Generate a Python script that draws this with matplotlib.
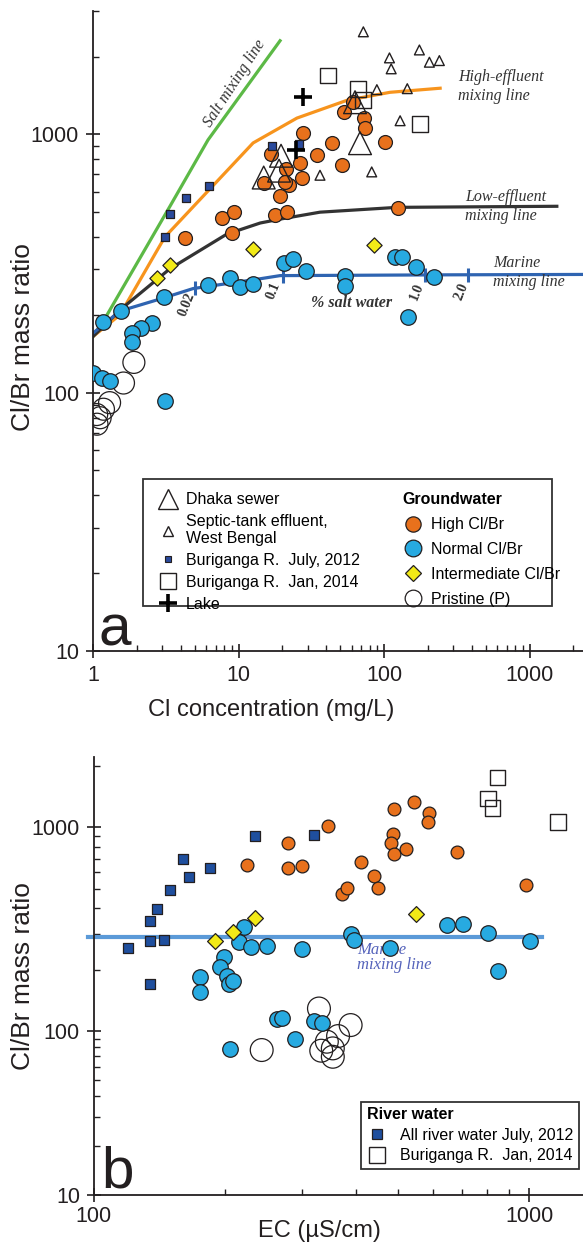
import numpy as np
import matplotlib.pyplot as plt
from matplotlib.lines import Line2D
from matplotlib.patches import Rectangle
from matplotlib.ticker import FixedLocator, NullFormatter

plt.rcParams['font.family'] = ['Liberation Sans', 'DejaVu Sans']
SERIF = ['Liberation Serif', 'DejaVu Serif']
INK = '#231f20'

# ---------------- panel a : Cl/Br vs Cl concentration ----------------
high_cl = [27.6, 16.7, 26.5, 34.4, 21.3, 27.2, 15.0, 22.4, 19.3, 7.67, 9.27, 17.8,
           21.4, 4.29, 9.06, 44.1, 51.2, 53.5, 60.9, 72.9, 73.5, 101.6, 124, 20.9]
high_ratio = [1011, 838, 775, 834, 738, 681, 649, 635, 577, 475, 503, 489,
              503, 396, 414, 927, 760, 1223, 1336, 1154, 1056, 936, 519, 653]

normal_cl = [1.18, 1.57, 3.09, 6.2, 8.74, 10.2, 12.5, 20.7, 23.5, 29.2, 53.9, 53.9,
             119, 132, 166, 222, 147, 2.53, 2.14, 1.84, 1.84, 1.0, 1.15, 1.31, 3.11]
normal_ratio = [188, 207, 234, 261, 277, 257, 264, 319, 328, 295, 283, 259,
                335, 335, 306, 281, 197, 186, 178, 170, 157, 119, 114, 111, 92.5]

inter_cl = [2.74, 3.38, 12.5, 85.8]
inter_ratio = [278, 311, 360, 374]

pristine_cl = [1.91, 1.62, 1.30, 1.18, 1.06, 1.065, 1.12]
pristine_ratio = [131, 109, 91.5, 86.3, 82.3, 75.5, 80]

bur12_cl = [3.14, 3.38, 4.38, 6.24, 17.1, 26.0]
bur12_ratio = [402, 494, 565, 630, 906, 919]

bur14_cl = [41.4, 66.6, 72.1, 177]
bur14_ratio = [1692, 1504, 1357, 1097]

sewer_cl = [19.6, 14.9, 19.0, 68.4, 63.2]
sewer_ratio = [827, 681, 724, 925, 1333]

septic_cl = [72.1, 109, 112, 175, 205, 240, 89.3, 144.5, 129, 36.3, 82.3]
septic_ratio = [2497, 1979, 1795, 2124, 1904, 1932, 1491, 1504, 1130, 695, 716]

lake_cl = [27.9, 24.8]
lake_ratio = [1397, 872]

# mixing lines
salt_x = [1, 1.21, 3.38, 6.17, 19.3]
salt_y = [165, 194, 527, 952, 2306]
high_x = [1, 1.53, 3.12, 12.6, 25.2, 55.7, 110, 243]
high_y = [165, 200, 401, 927, 1157, 1356, 1456, 1510]
low_x = [1, 1.58, 3.38, 8.3, 14.1, 19.3, 36.3, 123, 1540]
low_y = [165, 212, 302, 411, 454, 470, 500, 522, 527]
marine_x = [1, 1.53, 3.0, 4.87, 14, 19.3, 271, 2300]
marine_y = [170, 207, 232, 253, 276, 284, 286, 287]
salt_pct = ['0.02', '0.1', '1.0', '2.0']
salt_pct_cl = [5.02, 20.1, 191, 380]

# ---------------- panel b : Cl/Br vs EC ----------------
b_high_ec = [346, 280, 225, 280, 300, 411, 441, 371, 381, 450,
             490, 545, 590, 585, 486, 482, 490, 521, 682, 985]
b_high_ratio = [1011, 839, 651, 632, 644, 676, 575, 470, 501, 501,
                1222, 1331, 1167, 1055, 921, 838, 735, 777, 757, 520]

b_normal_ec = [221, 215, 230, 250, 300, 389, 395, 479, 647, 706, 806, 1005, 850,
               199.5, 195, 202, 204, 209, 175, 175, 264, 270, 320, 335, 290, 205]
b_normal_ratio = [322, 274, 259, 261, 254, 299, 279, 255, 331, 334, 303, 277, 197,
                  231, 205, 187, 171, 176, 185, 156, 114.5, 116, 112, 109, 89, 77.7]

b_inter_ec = [190, 209, 235, 550]
b_inter_ratio = [277, 307, 358, 373]

b_pristine_ec = [329, 389, 364, 343, 354, 333, 354, 243]
b_pristine_ratio = [129, 107, 93.2, 86.1, 78.4, 75.9, 69.7, 76.6]

b_river_ec = [120, 134.5, 145, 134.5, 140, 149.5, 165, 160, 185, 234.5, 320, 134.5]
b_river_ratio = [256, 276, 279, 346, 399, 491, 567, 695, 627, 906, 914, 171]

b_bur14_ec = [846, 804, 824, 1164]
b_bur14_ratio = [1752, 1382, 1243, 1055]

b_marine_ec = [97, 1071]
b_marine_ratio = [288, 288]

ORANGE = '#e8711c'
BLUE = '#27aae1'
YELLOW = '#f2ea17'
NAVY = '#1f4f9e'

fig = plt.figure(figsize=(5.83, 12.47), dpi=100)
ax1 = fig.add_axes([0.1595, 0.478, 0.8405, 0.513])
ax2 = fig.add_axes([0.161, 0.0417, 0.839, 0.351])

for ax in (ax1, ax2):
    for s in ('top', 'right'):
        ax.spines[s].set_visible(False)
    for s in ('left', 'bottom'):
        ax.spines[s].set_linewidth(1.3)
        ax.spines[s].set_color(INK)
    ax.tick_params(which='major', direction='inout', length=10, width=1.2,
                   colors=INK, labelsize=15.5, pad=5)
    ax.tick_params(which='minor', direction='in', length=4.5, width=1, colors=INK)

# ---- panel a ----
ax1.set_xscale('log')
ax1.set_yscale('log')
ax1.set_xlim(1, 2330)
ax1.set_ylim(10, 3000)

ax1.plot(salt_x, salt_y, color='#5cb946', lw=2.3, zorder=2)
ax1.plot(high_x, high_y, color='#f7941d', lw=2.3, zorder=2)
ax1.plot(low_x, low_y, color='#333333', lw=2.3, zorder=2)
ax1.plot(marine_x, marine_y, color='#2f64b1', lw=2.3, zorder=2)
pct_y = 10 ** np.interp(np.log10(salt_pct_cl), np.log10(marine_x), np.log10(marine_y))
ax1.plot(salt_pct_cl, pct_y, ls='none', marker='|', ms=10, mew=2.2,
         color='#2f64b1', zorder=2)

mk = dict(edgecolors=INK, linewidths=0.9, zorder=4)
ax1.scatter(pristine_cl, pristine_ratio, s=250, facecolors='none', **mk)
ax1.scatter(normal_cl, normal_ratio, s=125, c=BLUE, **mk)
ax1.scatter(high_cl, high_ratio, s=100, c=ORANGE, **mk)
ax1.scatter(inter_cl, inter_ratio, s=60, marker='D', c=YELLOW, **mk)
ax1.scatter(bur12_cl, bur12_ratio, s=28, marker='s', c='#2a4a9c', **mk)
ax1.scatter(bur14_cl, bur14_ratio, s=130, marker='s', facecolors='none',
            edgecolors=INK, linewidths=1.0, zorder=5)
ax1.scatter(sewer_cl, sewer_ratio, s=270, marker='^', facecolors='none',
            edgecolors=INK, linewidths=1.0, zorder=5)
ax1.scatter(septic_cl, septic_ratio, s=50, marker='^', facecolors='none',
            edgecolors=INK, linewidths=1.0, zorder=5)
ax1.scatter(lake_cl, lake_ratio, s=160, marker='+', c='black', linewidths=2.6, zorder=6)

ax1.set_xticks([1, 10, 100, 1000], ['1', '10', '100', '1000'])
ax1.set_yticks([10, 100, 1000], ['10', '100', '1000'])
ax1.xaxis.set_minor_formatter(NullFormatter())
ax1.yaxis.set_minor_formatter(NullFormatter())
ax1.set_xlabel('Cl concentration (mg/L)', fontsize=17, color=INK)
ax1.xaxis.set_label_coords(0.363, -0.075)
ax1.set_ylabel('Cl/Br mass ratio', fontsize=19, color=INK)
ax1.yaxis.set_label_coords(-0.118, 0.49)

it = dict(family=SERIF, style='italic', color='#333333', fontsize=11.5)
ax1.text(9.4, 1580, 'Salt mixing line', rotation=57, ha='center', va='center', **it)
ax1.text(323, 1535, 'High-effluent\nmixing line', ha='left', va='center', linespacing=1.25, **it)
ax1.text(360, 525, 'Low-effluent\nmixing line', ha='left', va='center', linespacing=1.25, **it)
ax1.text(561, 291, 'Marine\nmixing line', ha='left', va='center', linespacing=1.25, **it)
ax1.text(60, 222, '% salt water', ha='center', va='center', weight='bold', **it)
for lab, px, py in zip(salt_pct, [4.43, 17.3, 169, 342], [219, 249, 246, 246]):
    ax1.text(px, py, lab, rotation=68, ha='center', va='center', family=SERIF,
             weight='bold', color='#333333', fontsize=10)

ax1.text(0.012, 0.008, 'a', transform=ax1.transAxes, fontsize=42, color=INK,
         ha='left', va='baseline')

# legend box of panel a
ax1.add_patch(Rectangle((0.102, 0.0703), 0.835, 0.198, transform=ax1.transAxes,
                        facecolor='white', edgecolor='#333333', lw=1.3, zorder=7))
h_left = [
    Line2D([], [], ls='none', marker='^', ms=14, mfc='none', mec=INK, mew=1.0),
    Line2D([], [], ls='none', marker='^', ms=7, mfc='none', mec=INK, mew=1.0),
    Line2D([], [], ls='none', marker='s', ms=5, mfc='#2a4a9c', mec=INK, mew=0.8),
    Line2D([], [], ls='none', marker='s', ms=12, mfc='none', mec=INK, mew=1.0),
    Line2D([], [], ls='none', marker='+', ms=13, mec='black', mew=2.6),
]
l_left = ['Dhaka sewer', 'Septic-tank effluent,\nWest Bengal', 'Buriganga R.  July, 2012',
          'Buriganga R.  Jan, 2014', 'Lake']
leg1 = ax1.legend(h_left, l_left, loc='upper left', bbox_to_anchor=(0.105, 0.268),
                  frameon=False, fontsize=11.5, labelspacing=0.42, handletextpad=0.5,
                  handlelength=1.3, borderpad=0.3)
leg1.set_zorder(8)
ax1.add_artist(leg1)
h_right = [
    Line2D([], [], ls='none', marker='o', ms=11, mfc=ORANGE, mec=INK, mew=0.9),
    Line2D([], [], ls='none', marker='o', ms=12, mfc=BLUE, mec=INK, mew=0.9),
    Line2D([], [], ls='none', marker='D', ms=8, mfc=YELLOW, mec=INK, mew=0.9),
    Line2D([], [], ls='none', marker='o', ms=12, mfc='none', mec=INK, mew=0.9),
]
l_right = ['High Cl/Br', 'Normal Cl/Br', 'Intermediate Cl/Br', 'Pristine (P)']
leg2 = ax1.legend(h_right, l_right, loc='upper left', bbox_to_anchor=(0.605, 0.268),
                  frameon=False, fontsize=11.5, labelspacing=0.62, handletextpad=0.5,
                  handlelength=1.3, borderpad=0.3, title='Groundwater',
                  title_fontproperties={'weight': 'bold', 'size': 11.5}, alignment='left')
leg2.set_zorder(8)

# ---- panel b ----
K = 164 / 204


def fwd(v):
    lv = np.log10(np.maximum(v, 1e-12))
    return np.where(lv < 2, 2 + (lv - 2) * K, lv)


def inv(u):
    return np.where(u < 2, 10 ** (2 + (u - 2) / K), 10 ** u)


ax2.set_xscale('log')
ax2.set_yscale('function', functions=(fwd, inv))
ax2.set_xlim(100, 1330)
ax2.set_ylim(10, 2200)
ax2.tick_params(axis='x', which='major', pad=3)

ax2.plot(b_marine_ec, b_marine_ratio, color='#5b9ad8', lw=3, zorder=2, clip_on=False)
ax2.text(402, 274, 'Marine\nmixing line', ha='left', va='top', linespacing=0.95,
         family=SERIF, style='italic', color='#5563bb', fontsize=12, zorder=3)

ax2.scatter(b_pristine_ec, b_pristine_ratio, s=270, facecolors='none', **mk)
ax2.scatter(b_normal_ec, b_normal_ratio, s=125, c=BLUE, **mk)
ax2.scatter(b_high_ec, b_high_ratio, s=85, c=ORANGE, **mk)
ax2.scatter(b_inter_ec, b_inter_ratio, s=65, marker='D', c=YELLOW, **mk)
ax2.scatter(b_river_ec, b_river_ratio, s=55, marker='s', c=NAVY, **mk)
ax2.scatter(b_bur14_ec, b_bur14_ratio, s=130, marker='s', facecolors='none',
            edgecolors=INK, linewidths=1.0, zorder=5)

ax2.xaxis.set_major_locator(FixedLocator([100, 1000]))
ax2.xaxis.set_minor_locator(FixedLocator([200, 300, 400, 500, 600, 700, 800, 900]))
ax2.xaxis.set_major_formatter(plt.FuncFormatter(lambda v, p: f'{v:g}'))
ax2.xaxis.set_minor_formatter(NullFormatter())
ax2.yaxis.set_major_locator(FixedLocator([10, 100, 1000]))
ax2.yaxis.set_minor_locator(FixedLocator(list(range(20, 100, 10)) +
                                         list(range(200, 1000, 100)) + [2000]))
ax2.yaxis.set_major_formatter(plt.FuncFormatter(lambda v, p: f'{v:g}'))
ax2.yaxis.set_minor_formatter(NullFormatter())
ax2.set_xlabel('EC (µS/cm)', fontsize=17, color=INK)
ax2.xaxis.set_label_coords(0.462, -0.058)
ax2.set_ylabel('Cl/Br mass ratio', fontsize=19, color=INK)
ax2.yaxis.set_label_coords(-0.121, 0.5)

ax2.text(0.016, 0.018, 'b', transform=ax2.transAxes, fontsize=42, color=INK,
         ha='left', va='baseline')

h_river = [
    Line2D([], [], ls='none', marker='s', ms=7.5, mfc=NAVY, mec=INK, mew=0.9),
    Line2D([], [], ls='none', marker='s', ms=12, mfc='none', mec=INK, mew=1.0),
]
leg3 = ax2.legend(h_river, ['All river water July, 2012', 'Buriganga R.  Jan, 2014'],
                  loc='lower left', bbox_to_anchor=(0.53, 0.041), fontsize=11.5,
                  title='River water', title_fontproperties={'weight': 'bold', 'size': 11.5},
                  alignment='left', fancybox=False, edgecolor='#333333', framealpha=1,
                  labelspacing=0.35, handletextpad=0.8, handlelength=1.3, borderpad=0.35)
leg3.get_frame().set_linewidth(1.3)
leg3.set_zorder(8)

fig.savefig('out.png', dpi=100)
